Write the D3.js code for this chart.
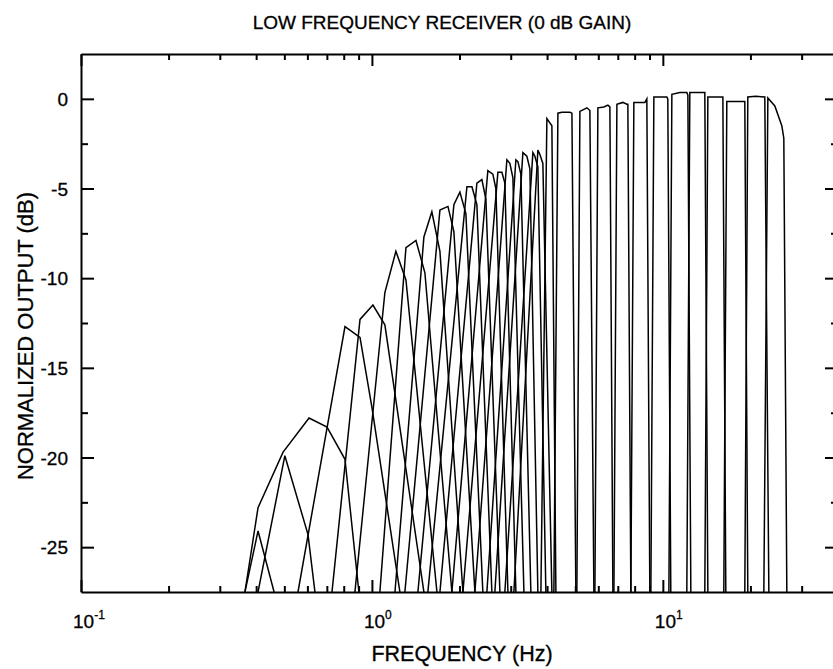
<!DOCTYPE html>
<html>
<head>
<meta charset="utf-8">
<script src="https://cdn.jsdelivr.net/npm/d3@7"></script>
<style>
  body { margin: 0; background: #fff; }
  text { font-family: "Liberation Sans", Arial, Helvetica, sans-serif; fill: #000; stroke: #000; stroke-width: 0.3px; }
</style>
</head>
<body>
<div id="graphic"></div>
<script>
// filter bank responses, one row per band: frequency (Hz) and normalized output (dB)
var bandFreqs = [
  [0.366, 0.406, 0.461],
  [0.406, 0.502, 0.603, 0.637],
  [0.366, 0.406, 0.495, 0.608, 0.701, 0.808, 0.902],
  [0.557, 0.808, 0.910, 1.0, 1.248],
  [0.729, 0.910, 1.008, 1.108, 1.509],
  [0.874, 1.108, 1.209, 1.309, 1.673],
  [1.065, 1.309, 1.417, 1.521, 1.883],
  [1.20, 1.509, 1.607, 1.713, 2.055],
  [1.298, 1.713, 1.825, 1.913, 2.259],
  [1.439, 1.913, 2.006, 2.104, 2.406],
  [1.557, 2.121, 2.207, 2.295, 2.584],
  [1.713, 2.295, 2.388, 2.465, 2.754],
  [1.883, 2.503, 2.604, 2.667, 2.934],
  [2.055, 2.710, 2.797, 2.864, 3.125],
  [2.259, 2.910, 2.980, 3.052, 3.330],
  [2.484, 3.125, 3.175, 3.251, 3.518],
  [2.646, 3.303, 3.409, 3.491, 3.719],
  [2.864, 3.575, 3.632, 3.719, 3.962],
  [3.076, 3.719, 3.779, 3.869, 4.155],
  [3.809, 3.994, 4.155, 4.289],
  [4.221, 4.358, 4.497, 4.790, 4.869, 5.023],
  [5.063, 5.186, 5.480, 5.613, 5.794],
  [5.840, 5.980, 6.271, 6.472, 6.576, 6.734],
  [6.788, 6.951, 7.287, 7.521, 7.581, 7.763],
  [7.763, 7.950, 8.673, 8.810, 9.022],
  [9.095, 9.314, 10.32, 10.40, 10.65],
  [10.49, 10.74, 11.44, 12.09, 12.19, 12.48],
  [12.09, 12.38, 13.94, 14.28],
  [13.94, 14.28, 16.08, 16.46],
  [16.20, 16.59, 19.13, 19.59],
  [19.13, 19.59, 20.87, 22.41, 23.14],
  [22.24, 22.96, 24.26, 25.64, 26.05, 26.68]
];
var bandLevels = [
  [-27.5, -24.1, -27.5],
  [-27.5, -19.9, -24.3, -27.5],
  [-27.5, -22.8, -19.7, -17.8, -18.3, -20.1, -27.5],
  [-27.5, -12.7, -13.3, -17.2, -27.5],
  [-27.5, -12.3, -11.5, -12.6, -27.5],
  [-27.5, -10.8, -8.5, -10.1, -27.5],
  [-27.5, -8.3, -7.9, -9.7, -27.5],
  [-27.5, -7.7, -6.3, -8.5, -27.5],
  [-27.5, -6.2, -6.0, -7.4, -27.5],
  [-27.5, -5.9, -5.2, -6.4, -27.5],
  [-27.5, -4.9, -4.9, -5.9, -27.5],
  [-27.5, -4.7, -4.5, -5.6, -27.5],
  [-27.5, -4.0, -4.2, -5.0, -27.5],
  [-27.5, -4.1, -4.1, -4.7, -27.5],
  [-27.5, -3.4, -3.6, -4.4, -27.5],
  [-27.5, -3.4, -3.5, -4.2, -27.5],
  [-27.5, -3.0, -3.2, -3.9, -27.5],
  [-27.5, -3.0, -3.2, -3.8, -27.5],
  [-27.5, -2.85, -3.1, -3.6, -27.5],
  [-27.5, -1.1, -1.5, -27.5],
  [-27.5, -0.8, -0.75, -0.75, -0.8, -27.5],
  [-27.5, -0.7, -0.5, -0.65, -27.5],
  [-27.5, -0.5, -0.45, -0.35, -0.45, -27.5],
  [-27.5, -0.3, -0.2, -0.3, -0.3, -27.5],
  [-27.5, -0.2, -0.2, 0.0, -27.5],
  [-27.5, 0.1, 0.1, 0.0, -27.5],
  [-27.5, 0.25, 0.35, 0.35, 0.2, -27.5],
  [-27.5, 0.35, 0.35, -27.5],
  [-27.5, 0.1, 0.1, -27.5],
  [-27.5, -0.15, -0.15, -27.5],
  [-27.5, 0.1, 0.15, 0.1, -27.5],
  [-27.5, 0.05, -0.4, -1.5, -2.2, -27.5]
];

var yMajorTicks = [0, -5, -10, -15, -20, -25];
var yMinorTicks = [-2.5, -7.5, -12.5, -17.5, -22.5];
var xMajorTicks = [0.1, 1, 10];
var xMajorExp = ["-1", "0", "1"];
var xMinorTicks = [0.2, 0.3, 0.4, 0.5, 0.6, 0.7, 0.8, 0.9, 2, 3, 4, 5, 6, 7, 8, 9, 20, 30];

var svgWidth = 833;
var svgHeight = 669;
var plotLeft = 81, plotRight = 838, plotTop = 54, plotBottom = 592;

var svg = d3.select("#graphic")
  .append("svg")
  .attr("width", svgWidth)
  .attr("height", svgHeight);

var x = d3.scaleLog().domain([0.1, 40]).range([plotLeft, plotRight]);
var y = d3.scaleLinear().domain([-27.5, 2.5]).range([plotBottom, plotTop]);

svg.append("clipPath")
  .attr("id", "plotClip")
  .append("rect")
  .attr("x", plotLeft)
  .attr("y", plotTop)
  .attr("width", plotRight - plotLeft)
  .attr("height", plotBottom - plotTop);

// curves
var bands = bandFreqs.map(function(fs, i) {
  return fs.map(function(f, j) { return [f, bandLevels[i][j]]; });
});

var line = d3.line()
  .x(function(d) { return x(d[0]); })
  .y(function(d) { return y(d[1]); });

svg.append("g")
  .attr("clip-path", "url(#plotClip)")
  .selectAll("path")
  .data(bands)
  .enter()
  .append("path")
  .attr("d", line)
  .attr("fill", "none")
  .attr("stroke", "#000")
  .attr("stroke-width", 1.5)
  .attr("stroke-linejoin", "miter");

// axes, ticks pointing inward on all four sides
function styleAxis(g, keepDomain) {
  g.selectAll("path.domain")
    .attr("stroke-width", 2)
    .attr("display", keepDomain ? null : "none");
  g.selectAll(".tick line").attr("stroke-width", 2);
  g.selectAll(".tick text").remove();
}

svg.append("g").attr("transform", "translate(0," + plotBottom + ")")
  .call(d3.axisBottom(x).tickValues(xMajorTicks).tickSizeInner(-12).tickSizeOuter(0))
  .call(styleAxis, true);
svg.append("g").attr("transform", "translate(0," + plotBottom + ")")
  .call(d3.axisBottom(x).tickValues(xMinorTicks).tickSizeInner(-6).tickSizeOuter(0))
  .call(styleAxis, false);
svg.append("g").attr("transform", "translate(0," + plotTop + ")")
  .call(d3.axisTop(x).tickValues(xMajorTicks).tickSizeInner(-12).tickSizeOuter(0))
  .call(styleAxis, true);
svg.append("g").attr("transform", "translate(0," + plotTop + ")")
  .call(d3.axisTop(x).tickValues(xMinorTicks).tickSizeInner(-6).tickSizeOuter(0))
  .call(styleAxis, false);

svg.append("g").attr("transform", "translate(" + plotLeft + ",0)")
  .call(d3.axisLeft(y).tickValues(yMajorTicks).tickSizeInner(-13).tickSizeOuter(0))
  .call(styleAxis, true);
svg.append("g").attr("transform", "translate(" + plotLeft + ",0)")
  .call(d3.axisLeft(y).tickValues(yMinorTicks).tickSizeInner(-7).tickSizeOuter(0))
  .call(styleAxis, false);
svg.append("g").attr("transform", "translate(" + plotRight + ",0)")
  .call(d3.axisRight(y).tickValues(yMajorTicks).tickSizeInner(-13).tickSizeOuter(0))
  .call(styleAxis, true);
svg.append("g").attr("transform", "translate(" + plotRight + ",0)")
  .call(d3.axisRight(y).tickValues(yMinorTicks).tickSizeInner(-7).tickSizeOuter(0))
  .call(styleAxis, false);

// y tick labels
svg.append("g").selectAll("text")
  .data(yMajorTicks)
  .enter()
  .append("text")
  .attr("x", 68)
  .attr("y", function(d) { return y(d) + 7; })
  .attr("text-anchor", "end")
  .style("font-size", "19px")
  .text(function(d) { return d; });

// x tick labels with superscript exponent
var xLabels = svg.append("g").selectAll("text")
  .data(xMajorTicks)
  .enter()
  .append("text")
  .attr("x", function(d) { return x(d) - 8; })
  .attr("y", 628)
  .style("font-size", "19px");
xLabels.append("tspan").text("10");
xLabels.append("tspan")
  .attr("dy", -9)
  .style("font-size", "12px")
  .text(function(d, i) { return xMajorExp[i]; });

// titles
svg.append("text")
  .attr("x", 442)
  .attr("y", 29)
  .attr("text-anchor", "middle")
  .style("font-size", "19px")
  .text("LOW FREQUENCY RECEIVER (0 dB GAIN)");

svg.append("text")
  .attr("x", 462)
  .attr("y", 661)
  .attr("text-anchor", "middle")
  .style("font-size", "21.5px")
  .text("FREQUENCY (Hz)");

svg.append("text")
  .attr("transform", "translate(33,336) rotate(-90)")
  .attr("text-anchor", "middle")
  .style("font-size", "22px")
  .text("NORMALIZED OUTPUT (dB)");
</script>
</body>
</html>
